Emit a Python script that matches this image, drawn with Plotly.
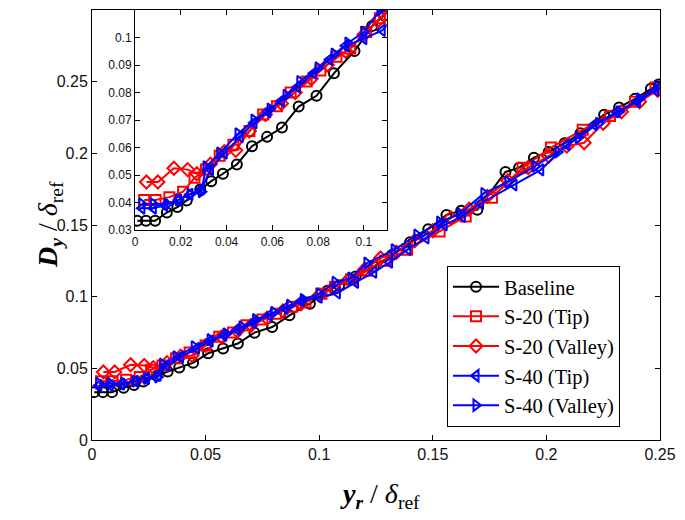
import plotly.graph_objects as go

# ---- data ----
base_x = [0.001, 0.0048, 0.0088, 0.0139, 0.0185, 0.0226, 0.0285, 0.0333, 0.0384, 0.0445,
          0.0511, 0.0577, 0.0642, 0.0715, 0.0793, 0.0869, 0.0959, 0.1036, 0.1088, 0.116,
          0.124, 0.132, 0.140, 0.148, 0.156, 0.1625, 0.1696, 0.182, 0.188, 0.1945,
          0.201, 0.208, 0.215, 0.2254, 0.232, 0.239, 0.246, 0.2495]
base_y = [0.0334, 0.0334, 0.0334, 0.0364, 0.0384, 0.0408, 0.0448, 0.0478, 0.0505, 0.0539,
          0.0605, 0.0639, 0.0673, 0.0749, 0.0788, 0.087, 0.0951, 0.1042, 0.108, 0.114,
          0.121, 0.129, 0.138, 0.147, 0.157, 0.160, 0.1606, 0.187, 0.190, 0.197,
          0.201, 0.207, 0.214, 0.227, 0.232, 0.238, 0.245, 0.248]

s20tip_x = [0.004, 0.009, 0.015, 0.021, 0.026, 0.031, 0.037, 0.043, 0.050, 0.056,
            0.062, 0.068, 0.075, 0.081, 0.088, 0.094, 0.101, 0.107, 0.114, 0.121,
            0.129, 0.1387, 0.153, 0.1645, 0.176, 0.1895, 0.202, 0.216, 0.228, 0.239, 0.248]
s20tip_y = [0.041, 0.041, 0.042, 0.044, 0.049, 0.052, 0.057, 0.061, 0.066, 0.072,
            0.075, 0.080, 0.084, 0.088, 0.093, 0.096, 0.102, 0.107, 0.112, 0.118,
            0.125, 0.1327, 0.1455, 0.156, 0.169, 0.190, 0.204, 0.2165, 0.226, 0.236, 0.246]

s20val_x = [0.005, 0.010, 0.017, 0.023, 0.027, 0.033, 0.039, 0.044, 0.050, 0.057,
            0.064, 0.070, 0.077, 0.084, 0.092, 0.100, 0.106, 0.113, 0.120, 0.127,
            0.134, 0.142, 0.150, 0.158, 0.166, 0.174, 0.183, 0.192, 0.201, 0.209,
            0.2166, 0.225, 0.233, 0.241, 0.249]
s20val_y = [0.0475, 0.0475, 0.0525, 0.052, 0.0505, 0.054, 0.0585, 0.059, 0.066, 0.072,
            0.076, 0.080, 0.085, 0.090, 0.095, 0.101, 0.106, 0.112, 0.119, 0.127,
            0.131, 0.139, 0.146, 0.155, 0.161, 0.170, 0.181, 0.190, 0.198, 0.205,
            0.2074, 0.221, 0.229, 0.236, 0.244]

s40tip_x = [0.003, 0.008, 0.013, 0.019, 0.024, 0.029, 0.033, 0.039, 0.046, 0.052,
            0.058, 0.064, 0.071, 0.078, 0.085, 0.092, 0.100, 0.108, 0.116, 0.124,
            0.131, 0.139, 0.147, 0.155, 0.163, 0.171, 0.1857, 0.1975, 0.209, 0.221,
            0.231, 0.240, 0.248]
s40tip_y = [0.038, 0.038, 0.039, 0.041, 0.043, 0.045, 0.052, 0.058, 0.064, 0.069,
            0.073, 0.077, 0.082, 0.087, 0.092, 0.097, 0.0996, 0.1026, 0.110, 0.117,
            0.124, 0.133, 0.141, 0.150, 0.156, 0.165, 0.178, 0.1885, 0.206, 0.220,
            0.229, 0.236, 0.244]

s40val_x = [0.003, 0.008, 0.014, 0.019, 0.024, 0.029, 0.031, 0.037, 0.045, 0.052,
            0.059, 0.066, 0.072, 0.080, 0.087, 0.093, 0.100, 0.107, 0.114, 0.121,
            0.133, 0.143, 0.153, 0.162, 0.1725, 0.183, 0.195, 0.205, 0.214, 0.223,
            0.232, 0.241, 0.249]
s40val_y = [0.0395, 0.0395, 0.0395, 0.041, 0.043, 0.044, 0.053, 0.058, 0.065, 0.070,
            0.074, 0.079, 0.084, 0.089, 0.094, 0.098, 0.102, 0.110, 0.113, 0.1234,
            0.1327, 0.143, 0.152, 0.158, 0.172, 0.180, 0.191, 0.201, 0.211, 0.221,
            0.229, 0.238, 0.247]

names = ["Baseline", "S-20 (Tip)", "S-20 (Valley)", "S-40 (Tip)", "S-40 (Valley)"]
xs = [base_x, s20tip_x, s20val_x, s40tip_x, s40val_x]
ys = [base_y, s20tip_y, s20val_y, s40tip_y, s40val_y]
colors = ["#000000", "#ff0000", "#ff0000", "#0000ff", "#0000ff"]
symbols = ["circle-open", "square-open", "diamond-open", "triangle-left-open", "triangle-right-open"]

main_xticks = [0, 0.05, 0.1, 0.15, 0.2, 0.25]
main_yticks = [0, 0.05, 0.1, 0.15, 0.2, 0.25]
inset_xticks = [0, 0.02, 0.04, 0.06, 0.08, 0.1]
inset_yticks = [0.03, 0.04, 0.05, 0.06, 0.07, 0.08, 0.09, 0.1]

SERIF = "Liberation Serif, Times New Roman, serif"
SANS = "Liberation Sans, Arial, sans-serif"

fig = go.Figure()
for n, x, y, c, s in zip(names, xs, ys, colors, symbols):
    fig.add_trace(go.Scatter(x=x, y=y, mode="lines+markers", name=n,
                             line=dict(color=c, width=2),
                             marker=dict(symbol=s, size=10, color=c, line=dict(color=c, width=2)),
                             xaxis="x", yaxis="y"))
for n, x, y, c, s in zip(names, xs, ys, colors, symbols):
    fig.add_trace(go.Scatter(x=x, y=y, mode="lines+markers", name=n, showlegend=False,
                             line=dict(color=c, width=2),
                             marker=dict(symbol=s, size=10, color=c, line=dict(color=c, width=2)),
                             xaxis="x2", yaxis="y2"))

ax_common = dict(showgrid=False, zeroline=False, showline=True, linecolor="black", linewidth=1,
                 mirror="ticks", ticks="inside", tickcolor="black", ticklen=5)

fig.update_layout(
    width=685, height=520,
    margin=dict(l=84, r=33, t=2, b=88),
    font=dict(family=SERIF, color="black"),
    paper_bgcolor="white", plot_bgcolor="white",
    xaxis=dict(domain=[0, 1], range=[0, 0.25], tickvals=main_xticks, anchor="y",
               tickfont=dict(family=SANS, size=16, color="#111"), **ax_common),
    yaxis=dict(domain=[0, 1], range=[0, 0.3], tickvals=main_yticks, anchor="x",
               tickfont=dict(family=SANS, size=16, color="#111"), **ax_common),
    xaxis2=dict(domain=[0.0757, 0.519], range=[0, 0.11], tickvals=inset_xticks, anchor="y2",
                tickfont=dict(family=SANS, size=12, color="#111"), **ax_common),
    yaxis2=dict(domain=[0.488, 1], range=[0.03, 0.11], tickvals=inset_yticks, anchor="x2",
                tickfont=dict(family=SANS, size=12, color="#111"), **ax_common),
    legend=dict(x=0.625, y=0.405, xanchor="left", yanchor="top",
                bgcolor="white", bordercolor="black", borderwidth=1,
                font=dict(family=SERIF, size=20.5, color="black"),
                tracegroupgap=0, itemwidth=46),
    showlegend=True,
    annotations=[
        dict(text="<b><i>D<sub>y</sub></i></b> / <i>δ</i><sub>ref</sub>", xref="paper", yref="paper",
             x=-0.11, y=0.5, showarrow=False, textangle=-90,
             font=dict(family=SERIF, size=28, color="black")),
        dict(text="<b><i>y<sub>r</sub></i></b> / <i>δ</i><sub>ref</sub>", xref="paper", yref="paper",
             x=0.507, y=-0.128, showarrow=False, yanchor="middle",
             font=dict(family=SERIF, size=28, color="black")),
    ],
)

fig.write_html("out.html")
